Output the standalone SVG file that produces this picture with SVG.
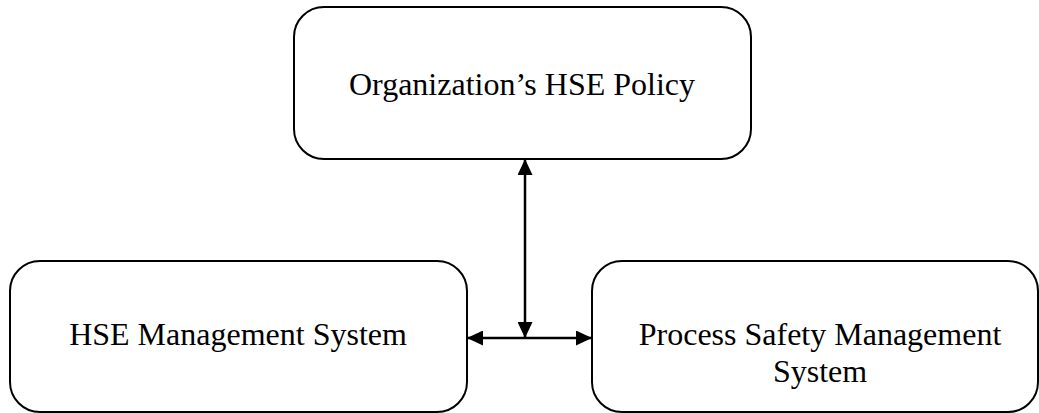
<svg xmlns="http://www.w3.org/2000/svg" width="1039" height="413" viewBox="0 0 1039 413">
<style>
.box{fill:#fff;stroke:#000;stroke-width:2}
.lbl{font-family:"Liberation Serif","Times New Roman",serif;font-size:32px;fill:#000;text-anchor:middle}
.conn{stroke:#000;stroke-width:2.5;fill:none}
</style>
<defs>
<marker id="ah" viewBox="0 0 16 15" refX="16" refY="7.5" markerWidth="16" markerHeight="15" markerUnits="userSpaceOnUse" orient="auto-start-reverse">
<path d="M0,0 L16,7.5 L0,15 Z" fill="#000"/>
</marker>
</defs>
<g id="policy">
<rect class="box" x="294" y="7" width="457" height="152" rx="30" ry="30"/>
<text class="lbl" x="522" y="95">Organization’s HSE Policy</text>
</g>
<g id="hse-ms">
<rect class="box" x="10" y="261" width="457" height="151" rx="30" ry="30"/>
<text class="lbl" x="238" y="345">HSE Management System</text>
</g>
<g id="psm">
<rect class="box" x="592" y="261" width="446" height="151" rx="30" ry="30"/>
<text class="lbl" x="820" y="345">Process Safety Management</text>
<text class="lbl" x="820" y="382">System</text>
</g>
<g id="connectors">
<line class="conn" x1="525" y1="159" x2="525" y2="338" marker-start="url(#ah)" marker-end="url(#ah)"/>
<line class="conn" x1="467" y1="338" x2="592" y2="338" marker-start="url(#ah)" marker-end="url(#ah)"/>
</g>
</svg>
